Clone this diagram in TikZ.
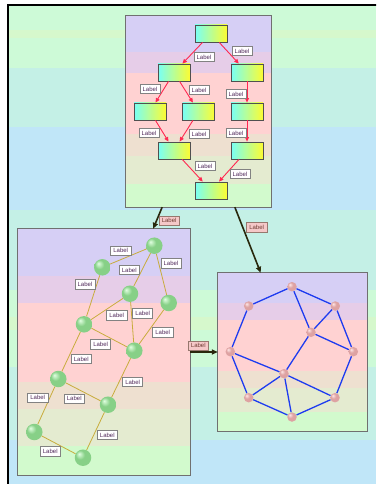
\documentclass[tikz,border=0pt]{standalone}
\usepackage{fontspec}
\setmainfont{Liberation Sans}
\usetikzlibrary{arrows.meta, positioning, calc}
\definecolor{bggreen}{RGB}{205,250,215}
\definecolor{bgyellow}{RGB}{214,248,204}
\definecolor{bgcyan}{RGB}{196,240,230}
\definecolor{bgblue}{RGB}{192,230,248}
\definecolor{bandpurple}{RGB}{214,207,245}
\definecolor{bandmauve}{RGB}{230,205,232}
\definecolor{bandpink}{RGB}{255,210,210}
\definecolor{bandbeige}{RGB}{238,224,208}
\definecolor{bandolive}{RGB}{228,235,208}
\definecolor{bandgreen}{RGB}{210,250,205}
\definecolor{paneledge}{RGB}{112,112,112}
\definecolor{boxedge}{RGB}{80,80,80}
\definecolor{boxcyan}{RGB}{120,255,245}
\definecolor{boxyellow}{RGB}{252,252,50}
\definecolor{flowred}{RGB}{255,40,80}
\definecolor{graphedge}{RGB}{200,172,60}
\definecolor{meshblue}{RGB}{30,60,240}
\definecolor{darkolive}{RGB}{40,40,12}
\definecolor{lbledge}{RGB}{130,130,130}
\definecolor{lbltext}{RGB}{80,40,90}
\definecolor{plbledge}{RGB}{150,120,110}
\definecolor{plblfill}{RGB}{245,200,200}
\definecolor{plbltext}{RGB}{110,60,50}
\definecolor{gbhi}{RGB}{225,255,225}
\definecolor{gbmain}{RGB}{135,208,135}
\definecolor{gbedge}{RGB}{85,155,85}
\definecolor{pbhi}{RGB}{255,232,232}
\definecolor{pbmain}{RGB}{222,162,162}
\definecolor{pbedge}{RGB}{170,110,110}
\pgfdeclareradialshading{gball}{\pgfpoint{-12bp}{12bp}}{color(0bp)=(gbhi); color(14bp)=(gbmain); color(40bp)=(gbmain); color(50bp)=(gbedge)}
\pgfdeclareradialshading{pball}{\pgfpoint{-12bp}{12bp}}{color(0bp)=(pbhi); color(14bp)=(pbmain); color(40bp)=(pbmain); color(50bp)=(pbedge)}
\tikzset{
  flowbox/.style={rectangle, draw=boxedge, left color=boxcyan, right color=boxyellow,
    minimum width=32pt, minimum height=17pt, inner sep=0pt, line width=0.8pt},
  lbl/.style={rectangle, draw=lbledge, fill=white, text=lbltext,
    font=\fontsize{6}{6}\selectfont, inner xsep=2.8pt, inner ysep=0pt,
    minimum height=9.5pt, line width=0.6pt},
  plbl/.style={lbl, draw=plbledge, fill=plblfill, text=plbltext},
  redarrow/.style={-{Triangle[length=4.5pt, width=4pt]}, line width=0.9pt, color=flowred},
  bigarrow/.style={-{Triangle[length=6pt, width=5pt]}, line width=1.6pt, color=darkolive},
  greenball/.style={circle, inner sep=0pt, minimum size=16.5pt, shading=gball},
  pinkball/.style={circle, inner sep=0pt, minimum size=9.5pt, shading=pball},
  oliveline/.style={line width=0.8pt, color=graphedge},
  blueline/.style={line width=1.3pt, color=meshblue},
  panel/.style={rectangle, inner sep=0pt},
  panelframe/.style={draw=paneledge, line width=0.8pt}
}
\newcommand{\panelbands}[1]{%
  \foreach \fa/\fb/\col in {0/0.19/bandpurple, 0.19/0.30/bandmauve, 0.30/0.62/bandpink,
      0.62/0.73/bandbeige, 0.73/0.88/bandolive, 0.88/1/bandgreen} {
    \fill[\col] ($(#1.north west)!\fa!(#1.south west)$) rectangle ($(#1.north east)!\fb!(#1.south east)$);
  }
  \draw[panelframe] (#1.north west) rectangle (#1.south east);
}

\begin{document}
\begin{tikzpicture}[x=1pt, y=-1pt]
\useasboundingbox (0,0) rectangle (376,484);
\clip (0,0) rectangle (376,484);

%--- BACKGROUND ---
\foreach \ya/\yb/\col in {5/68/bggreen, 30/38/bgyellow, 68/127/bgcyan, 127/210/bgblue,
    210/290/bgcyan, 290/367/bggreen, 317/330/bgyellow, 367/440/bgcyan, 440/484/bgblue} {
  \fill[\col] (9,\ya) rectangle (376,\yb);
}
\draw[line width=1.6pt, black] (8,490) -- (8,5) -- (380,5);

%--- PANELS ---
\node[panel, minimum width=145pt, minimum height=191pt] (flow) at (198.5,111.5) {};
\node[panel, minimum width=172pt, minimum height=246pt] (graph) at (104,352) {};
\node[panel, minimum width=149pt, minimum height=158pt] (mesh) at (292.5,352) {};
\panelbands{flow}
\panelbands{graph}
\panelbands{mesh}

%--- FLOWCHART (top) ---
\node[flowbox] (N1) at (211,33.5) {};
\node[flowbox] (N2) at (174,72.5) {};
\node[flowbox] (N3) at (247,72.5) {};
\node[flowbox] (N4) at (150,111.5) {};
\node[flowbox] (N5) at (198.5,111.5) {};
\node[flowbox] (N6) at (247,111.5) {};
\node[flowbox] (N7) at (174,150.5) {};
\node[flowbox] (N8) at (247,150.5) {};
\node[flowbox] (N9) at (211,190.5) {};
\foreach \a/\b/\dx/\dy in {N1/N2/11.5/4, N1/N3/13/-2, N2/N4/-12/-3, N2/N5/12.8/-2,
    N3/N6/-11/2, N4/N7/-13/2, N5/N7/12.8/3, N6/N8/-11/2, N7/N9/12.5/-4.5, N8/N9/11/3.5} {
  \draw[redarrow] (\a) -- node[lbl, midway, shift={(\dx,\dy)}] {Label} (\b);
}

%--- GRAPH (left) ---
\foreach \n/\x/\y in {gA/154.3/245.7, gB/102.3/267.3, gC/130/293.7, gD/168.7/303,
    gE/84/324.3, gF/134.3/350.7, gG/58.3/379, gH/108/404.7, gI/34.3/432, gJ/83/457.7} {
  \node[greenball] (\n) at (\x,\y) {};
}
\foreach \a/\b/\dx/\dy in {gB/gA/-7.6/-5.8, gA/gC/-12.9/0.3, gA/gD/9.5/-11.1,
    gB/gE/-8.2/-11.5, gC/gE/9.7/6.3, gC/gF/10.5/-8.9, gD/gF/11.2/5.4, gE/gF/-8.5/6.8,
    gE/gG/10.1/7.3, gF/gH/11.5/4.3, gG/gH/-8.9/6.8, gG/gI/-8.6/-7.8, gH/gJ/11.8/3.8,
    gI/gJ/-8.4/6.4} {
  \draw[oliveline] (\a) -- node[lbl, midway, shift={(\dx,\dy)}] {Label} (\b);
}

%--- MESH (right) ---
\foreach \n/\x/\y in {m1/292/286.7, m2/248.7/306, m3/335.3/306, m4/311/332.3,
    m5/230.3/351.7, m6/353.3/351.7, m7/284/373.7, m8/248.7/397.7, m9/335/397.7, m10/292/417} {
  \node[pinkball] (\n) at (\x,\y) {};
}
\foreach \a/\b in {m1/m2, m1/m3, m1/m4, m3/m4, m3/m6, m4/m6, m2/m5, m4/m7, m5/m7,
    m5/m8, m6/m9, m7/m8, m7/m9, m7/m10, m8/m10, m9/m10} {
  \draw[blueline] (\a) -- (\b);
}

%--- LINKS BETWEEN PANELS ---
\coordinate (f1) at ($(flow.south west)!0.25!(flow.south east)$);
\coordinate (f2) at ($(flow.south west)!0.75!(flow.south east)$);
\coordinate (g1) at ($(graph.north west)!0.785!(graph.north east)$);
\coordinate (m0) at ($(mesh.north west)!0.287!(mesh.north east)$);
\draw[bigarrow] (f1) -- node[plbl, midway, shift={(11.5,2.7)}] {Label} (g1);
\draw[bigarrow] (f2) -- node[plbl, midway, shift={(8.9,-12.7)}] {Label} (m0);
\draw[bigarrow] (graph.east) -- node[plbl, midway, shift={(-5.7,-6.3)}] {Label} (mesh.west);
\end{tikzpicture}
\end{document}
